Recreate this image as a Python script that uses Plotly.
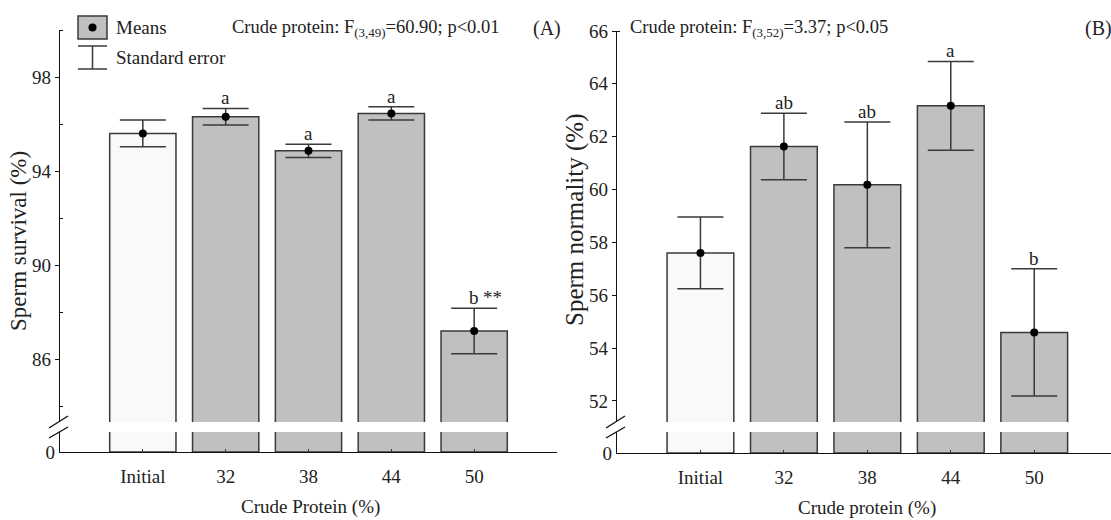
import plotly.graph_objects as go

# ---------------- data ----------------
categories = ["Initial", "32", "38", "44", "50"]

survival_mean = [95.60, 96.31, 94.86, 96.45, 87.19]
survival_se = [0.57, 0.35, 0.28, 0.28, 0.97]
survival_letters = ["", "a", "a", "a", "b"]

normality_mean = [57.60, 61.63, 60.18, 63.17, 54.59]
normality_se = [1.36, 1.26, 2.38, 1.68, 2.41]
normality_letters = ["", "ab", "ab", "a", "b"]

bar_fills = ["#f9f9f9", "#c0c0c0", "#c0c0c0", "#c0c0c0", "#c0c0c0"]

left_yticks = [86, 90, 94, 98]
left_minor = [84, 88, 92, 96, 100]
right_yticks = [52, 54, 56, 58, 60, 62, 64, 66]
right_minor = [66]

# ---------------- geometry helpers ----------------
W, H = 1111, 520
def px(x):
    return x / W
def py(y):
    return 1 - y / H

FONT = "Liberation Serif"
INK = "#222222"
EDGE = "#3a3a3a"
xi = list(range(len(categories)))

fig = go.Figure()

def add_panel(xa, ya_up, ya_lo, means, ses):
    for ya in (ya_up, ya_lo):
        fig.add_trace(go.Bar(
            x=xi, y=means, xaxis=xa, yaxis=ya, width=0.8,
            marker=dict(color=bar_fills, line=dict(color=EDGE, width=1.5)),
            showlegend=False, hoverinfo="skip"))
    fig.add_trace(go.Scatter(
        x=xi, y=means, xaxis=xa, yaxis=ya_up, mode="markers",
        marker=dict(color="black", size=8),
        error_y=dict(type="data", array=ses, visible=True, color=EDGE,
                     thickness=1.5, width=23),
        showlegend=False, hoverinfo="skip"))

add_panel("x", "y", "y2", survival_mean, survival_se)
add_panel("x2", "y3", "y4", normality_mean, normality_se)

axis_common = dict(showline=True, linecolor="#111111", linewidth=1.3,
                   showgrid=False, zeroline=False, automargin=False,
                   tickfont=dict(family=FONT, size=19, color=INK))

fig.update_layout(
    width=W, height=H,
    margin=dict(l=0, r=0, t=0, b=0, autoexpand=False),
    paper_bgcolor="white", plot_bgcolor="white",
    bargap=0.2,
    xaxis=dict(domain=[px(60), px(557)], anchor="y2", range=[-1, 5],
               tickvals=xi, ticktext=categories, ticks="inside", ticklen=3,
               tickcolor=EDGE, ticklabelstandoff=7, **axis_common),
    yaxis=dict(domain=[py(422), py(30)], anchor="x", range=[83.32, 100.0],
               tickvals=left_yticks, ticks="outside", ticklen=4,
               tickcolor="#111111",
               minor=dict(tickvals=left_minor, ticks="inside", ticklen=3,
                          tickcolor="#111111"),
               **axis_common),
    yaxis2=dict(domain=[py(452), py(432)], anchor="x", range=[0, 1],
                tickvals=[0], ticktext=["0"], ticks="", **axis_common),
    xaxis2=dict(domain=[px(617), 1.0], anchor="y4", range=[-1, 4.92],
                tickvals=xi, ticktext=categories, ticks="inside", ticklen=3,
                tickcolor=EDGE, ticklabelstandoff=7, **axis_common),
    yaxis3=dict(domain=[py(422), py(31)], anchor="x2", range=[51.2, 66.0],
                tickvals=right_yticks, ticks="outside", ticklen=4,
                tickcolor="#111111",
                minor=dict(tickvals=right_minor, ticks="inside", ticklen=3,
                           tickcolor="#111111"),
                **axis_common),
    yaxis4=dict(domain=[py(453), py(432)], anchor="x2", range=[0, 1],
                tickvals=[0], ticktext=["0"], ticks="", **axis_common),
)

ann = []
def text(x, y, s, size=19, xanchor="center", yanchor="middle", angle=0, xref="paper", yref="paper", xshift=0, yshift=0):
    ann.append(dict(x=x, y=y, xref=xref, yref=yref, text=s, showarrow=False,
                    xanchor=xanchor, yanchor=yanchor, textangle=angle,
                    xshift=xshift, yshift=yshift,
                    font=dict(family=FONT, size=size, color=INK)))

# significance letters
for i, (m, s, l) in enumerate(zip(survival_mean, survival_se, survival_letters)):
    if l:
        text(i, m + s, l, xref="x", yref="y", yanchor="bottom", yshift=-2)
text(4, survival_mean[4] + survival_se[4], "**", xref="x", yref="y",
     xanchor="left", yanchor="bottom", xshift=7, yshift=-2)
for i, (m, s, l) in enumerate(zip(normality_mean, normality_se, normality_letters)):
    if l:
        text(i, m + s, l, xref="x2", yref="y3", yanchor="bottom", yshift=-2)

# axis titles
text(px(18), py(241), "Sperm survival (%)", size=23, angle=-90)
text(px(575), py(220), "Sperm normality (%)", size=25, angle=-90)
text(px(310), py(507), "Crude Protein (%)")
text(px(867), py(508), "Crude protein (%)")

# panel headers
text(px(230), py(28), "Crude protein: F<sub>(3,49)</sub>=60.90; p<0.01", xanchor="left", size=18.5)
text(px(547), py(28), "(A)", size=20)
text(px(628), py(28), "Crude protein: F<sub>(3,52)</sub>=3.37; p<0.05", xanchor="left", size=18.5)
text(px(1098), py(28), "(B)", size=20)

# legend texts
text(px(114), py(27), "Means", xanchor="left")
text(px(114), py(57), "Standard error", xanchor="left")

fig.update_layout(annotations=ann)

shapes = []
def line(x0, y0, x1, y1, w=1.4, c="#111111"):
    shapes.append(dict(type="line", xref="paper", yref="paper",
                       x0=px(x0), y0=py(y0), x1=px(x1), y1=py(y1),
                       line=dict(color=c, width=w)))

# axis break marks
for dx in (0, 557):
    line(49 + dx, 428, 68 + dx, 416)
    line(49 + dx, 438, 68 + dx, 427)

# legend symbols
shapes.append(dict(type="rect", xref="paper", yref="paper",
                   x0=px(78), y0=py(39), x1=px(107), y1=py(16),
                   fillcolor="#c0c0c0", line=dict(color=EDGE, width=1.5)))
shapes.append(dict(type="circle", xref="paper", yref="paper",
                   x0=px(88.5), y0=py(31.5), x1=px(96.5), y1=py(23.5),
                   fillcolor="black", line=dict(color="black", width=0)))
line(78, 46, 107, 46, c=EDGE, w=1.5)
line(92.5, 46, 92.5, 69, c=EDGE, w=1.5)
line(78, 69, 107, 69, c=EDGE, w=1.5)

fig.update_layout(shapes=shapes)

fig.write_html("out.html", config={"displayModeBar": False},
               post_script="document.body.style.margin='0';document.body.style.overflow='hidden';")
